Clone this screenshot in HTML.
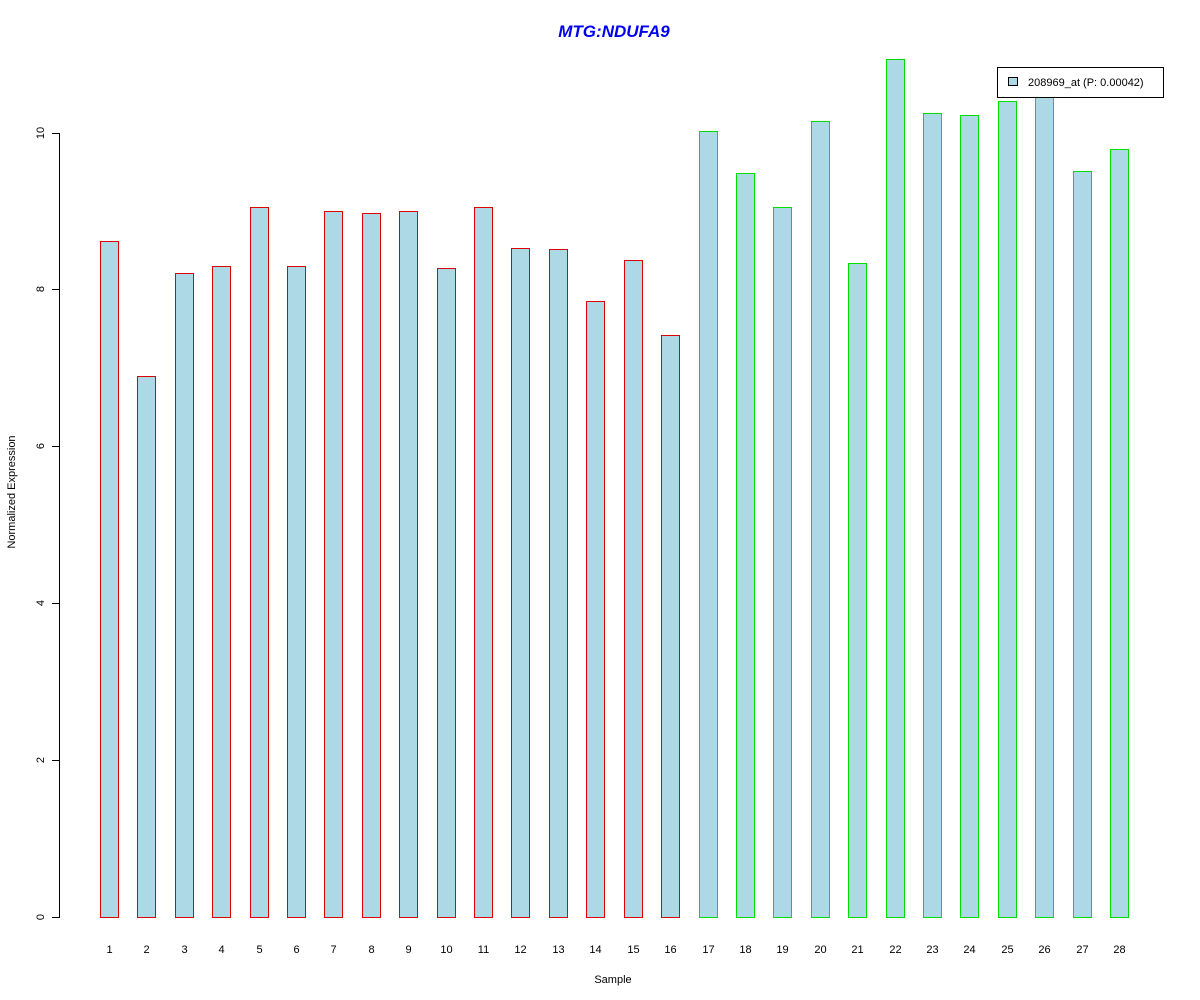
<!DOCTYPE html>
<html><head><meta charset="utf-8"><style>html,body{margin:0;padding:0;background:#fff}svg{display:block}</style></head>
<body>
<svg width="1200" height="1000" xmlns="http://www.w3.org/2000/svg" font-family="Liberation Sans, Arial, sans-serif">
<rect width="1200" height="1000" fill="#fff"/>
<text x="614" y="37" text-anchor="middle" font-size="17" font-weight="bold" font-style="italic" fill="#0000ee">MTG:NDUFA9</text>
<g fill="#dd0000" shape-rendering="crispEdges">
<rect x="100" y="241" width="19" height="677"/>
<rect x="137" y="376" width="19" height="542"/>
<rect x="175" y="273" width="19" height="645"/>
<rect x="212" y="266" width="19" height="652"/>
<rect x="250" y="207" width="19" height="711"/>
<rect x="287" y="266" width="19" height="652"/>
<rect x="324" y="211" width="19" height="707"/>
<rect x="362" y="213" width="19" height="705"/>
<rect x="399" y="211" width="19" height="707"/>
<rect x="437" y="268" width="19" height="650"/>
<rect x="474" y="207" width="19" height="711"/>
<rect x="511" y="248" width="19" height="670"/>
<rect x="549" y="249" width="19" height="669"/>
<rect x="586" y="301" width="19" height="617"/>
<rect x="624" y="260" width="19" height="658"/>
<rect x="661" y="335" width="19" height="583"/>
</g>
<g fill="#00dd00" shape-rendering="crispEdges">
<rect x="699" y="131" width="19" height="787"/>
<rect x="736" y="173" width="19" height="745"/>
<rect x="773" y="207" width="19" height="711"/>
<rect x="811" y="121" width="19" height="797"/>
<rect x="848" y="263" width="19" height="655"/>
<rect x="886" y="59" width="19" height="859"/>
<rect x="923" y="113" width="19" height="805"/>
<rect x="960" y="115" width="19" height="803"/>
<rect x="998" y="101" width="19" height="817"/>
<rect x="1035" y="93" width="19" height="825"/>
<rect x="1073" y="171" width="19" height="747"/>
<rect x="1110" y="149" width="19" height="769"/>
</g>
<g fill="#add8e6" shape-rendering="crispEdges">
<rect x="101" y="242" width="17" height="675"/>
<rect x="138" y="377" width="17" height="540"/>
<rect x="176" y="274" width="17" height="643"/>
<rect x="213" y="267" width="17" height="650"/>
<rect x="251" y="208" width="17" height="709"/>
<rect x="288" y="267" width="17" height="650"/>
<rect x="325" y="212" width="17" height="705"/>
<rect x="363" y="214" width="17" height="703"/>
<rect x="400" y="212" width="17" height="705"/>
<rect x="438" y="269" width="17" height="648"/>
<rect x="475" y="208" width="17" height="709"/>
<rect x="512" y="249" width="17" height="668"/>
<rect x="550" y="250" width="17" height="667"/>
<rect x="587" y="302" width="17" height="615"/>
<rect x="625" y="261" width="17" height="656"/>
<rect x="662" y="336" width="17" height="581"/>
<rect x="700" y="132" width="17" height="785"/>
<rect x="737" y="174" width="17" height="743"/>
<rect x="774" y="208" width="17" height="709"/>
<rect x="812" y="122" width="17" height="795"/>
<rect x="849" y="264" width="17" height="653"/>
<rect x="887" y="60" width="17" height="857"/>
<rect x="924" y="114" width="17" height="803"/>
<rect x="961" y="116" width="17" height="801"/>
<rect x="999" y="102" width="17" height="815"/>
<rect x="1036" y="94" width="17" height="823"/>
<rect x="1074" y="172" width="17" height="745"/>
<rect x="1111" y="150" width="17" height="767"/>
</g>
<g fill="#000" shape-rendering="crispEdges">
<rect x="59" y="133" width="1" height="785"/>
<rect x="52" y="917" width="8" height="1"/>
<rect x="52" y="760" width="8" height="1"/>
<rect x="52" y="603" width="8" height="1"/>
<rect x="52" y="446" width="8" height="1"/>
<rect x="52" y="289" width="8" height="1"/>
<rect x="52" y="133" width="8" height="1"/>
</g>
<g font-size="11" fill="#000" text-anchor="middle">
<text transform="translate(44,917) rotate(-90)">0</text>
<text transform="translate(44,760) rotate(-90)">2</text>
<text transform="translate(44,603) rotate(-90)">4</text>
<text transform="translate(44,446) rotate(-90)">6</text>
<text transform="translate(44,289) rotate(-90)">8</text>
<text transform="translate(44,133) rotate(-90)">10</text>
<text transform="translate(15,492) rotate(-90)">Normalized Expression</text>
<text x="613" y="983">Sample</text>
<text x="109.5" y="953">1</text>
<text x="146.5" y="953">2</text>
<text x="184.5" y="953">3</text>
<text x="221.5" y="953">4</text>
<text x="259.5" y="953">5</text>
<text x="296.5" y="953">6</text>
<text x="333.5" y="953">7</text>
<text x="371.5" y="953">8</text>
<text x="408.5" y="953">9</text>
<text x="446.5" y="953">10</text>
<text x="483.5" y="953">11</text>
<text x="520.5" y="953">12</text>
<text x="558.5" y="953">13</text>
<text x="595.5" y="953">14</text>
<text x="633.5" y="953">15</text>
<text x="670.5" y="953">16</text>
<text x="708.5" y="953">17</text>
<text x="745.5" y="953">18</text>
<text x="782.5" y="953">19</text>
<text x="820.5" y="953">20</text>
<text x="857.5" y="953">21</text>
<text x="895.5" y="953">22</text>
<text x="932.5" y="953">23</text>
<text x="969.5" y="953">24</text>
<text x="1007.5" y="953">25</text>
<text x="1044.5" y="953">26</text>
<text x="1082.5" y="953">27</text>
<text x="1119.5" y="953">28</text>
</g>
<rect x="997" y="67" width="167" height="31" fill="#000" shape-rendering="crispEdges"/>
<rect x="998" y="68" width="165" height="29" fill="#fff" shape-rendering="crispEdges"/>
<rect x="1008" y="77" width="10" height="9" fill="#000" shape-rendering="crispEdges"/>
<rect x="1009" y="78" width="8" height="7" fill="#add8e6" shape-rendering="crispEdges"/>
<text x="1028" y="86" font-size="11">208969_at (P: 0.00042)</text>
</svg>
</body></html>
